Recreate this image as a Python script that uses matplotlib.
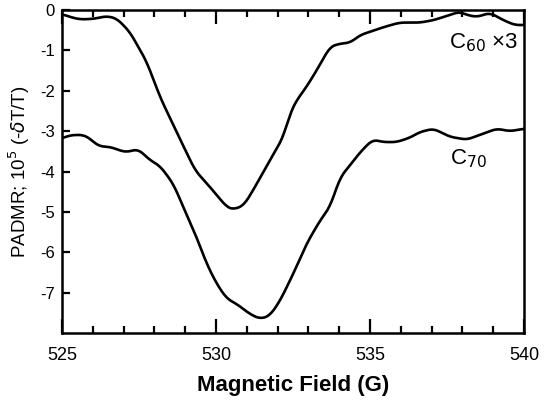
import numpy as np
from matplotlib import pyplot as plt
from matplotlib.ticker import MultipleLocator

plt.rcParams['font.family'] = ['Liberation Sans', 'DejaVu Sans']

# C60 (x3) trace
c60_field = [525.0, 525.3, 525.58, 526.0, 526.45, 526.78, 527.2, 527.75, 528.18,
             528.72, 529.32, 529.8, 530.35, 530.56, 530.9, 531.2, 531.75, 532.19,
             532.4, 532.62, 532.94, 533.27, 533.7, 534.03, 534.35, 534.68, 535.1,
             535.54, 535.97, 536.62, 537.06, 537.6, 537.9, 538.14, 538.46, 538.9,
             539.33, 539.7, 540.0]
c60_signal = [-0.1, -0.18, -0.23, -0.22, -0.15, -0.21, -0.54, -1.28, -2.15,
              -3.02, -3.97, -4.38, -4.88, -4.94, -4.84, -4.47, -3.72, -3.14,
              -2.56, -2.23, -1.9, -1.49, -0.91, -0.83, -0.81, -0.62, -0.51,
              -0.4, -0.31, -0.31, -0.25, -0.12, -0.04, -0.12, -0.17, -0.07,
              -0.25, -0.37, -0.37]

# C70 trace
c70_field = [525.0, 525.26, 525.69, 525.9, 526.18, 526.56, 527.05, 527.48, 527.86,
             528.18, 528.61, 528.94, 529.37, 529.7, 530.02, 530.35, 530.67, 531.1,
             531.43, 531.75, 532.08, 532.51, 532.94, 533.38, 533.7, 534.03, 534.35,
             534.51, 534.84, 535.1, 535.43, 535.86, 536.3, 536.62, 537.06, 537.6,
             538.14, 538.68, 539.11, 539.55, 540.0]
c70_signal = [-3.18, -3.1, -3.09, -3.18, -3.37, -3.39, -3.52, -3.45, -3.72,
              -3.86, -4.3, -4.88, -5.63, -6.29, -6.78, -7.15, -7.28, -7.53,
              -7.65, -7.57, -7.2, -6.53, -5.79, -5.21, -4.88, -4.14, -3.85,
              -3.68, -3.39, -3.21, -3.27, -3.27, -3.16, -3.02, -2.94, -3.14,
              -3.21, -3.06, -2.94, -3.0, -2.94]


def smooth(xs, ys, n=400):
    # light smoothing of the hand-read points
    xf = np.linspace(xs[0], xs[-1], n)
    yf = np.interp(xf, xs, ys)
    k = np.ones(9) / 9
    yp = np.pad(yf, 4, mode='edge')
    return xf, np.convolve(yp, k, mode='valid')


fig = plt.figure(figsize=(5.45, 4.03), dpi=100)
ax = fig.add_axes([0.1138, 0.1737, 0.8477, 0.8013])

for xs, ys in [(c60_field, c60_signal), (c70_field, c70_signal)]:
    xf, yf = smooth(xs, ys)
    ax.plot(xf, yf, color='black', lw=1.9)

ax.set_xlim(525, 540)
ax.set_ylim(-8, 0)
ax.xaxis.set_major_locator(MultipleLocator(5))
ax.xaxis.set_minor_locator(MultipleLocator(1))
ax.set_yticks(range(0, -8, -1))
ax.set_yticklabels([str(v) for v in range(0, -8, -1)])

ax.tick_params(axis='x', which='both', direction='in', top=True, labelsize=13, pad=10)
ax.tick_params(axis='x', which='major', length=10, width=1.6)
ax.tick_params(axis='x', which='minor', length=5, width=1.6)
ax.tick_params(axis='y', direction='in', length=6, width=1.6, labelsize=12, pad=5)
for s in ax.spines.values():
    s.set_linewidth(1.8)

ax.set_xlabel('Magnetic Field (G)', fontsize=16, fontweight='bold', labelpad=8)
ax.set_ylabel(r'PADMR; 10$^5$ (-$\delta$T/T)', fontsize=13.5, labelpad=6)

ax.text(539.8, -0.8, 'C$_{60}$ \u00d73', fontsize=16, ha='right', va='center')
ax.text(537.6, -3.68, r'C$_{70}$', fontsize=16, ha='left', va='center')

fig.savefig('out.png', dpi=100)
